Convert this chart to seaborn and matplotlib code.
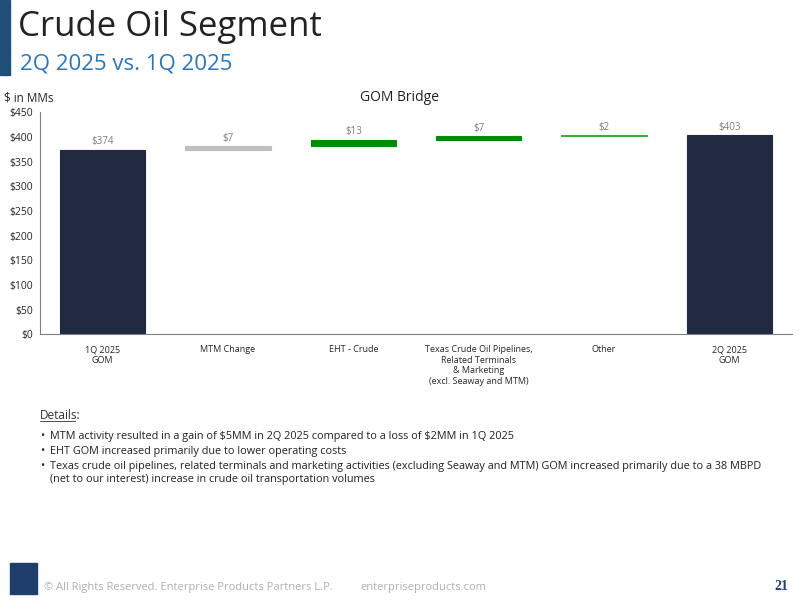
import matplotlib
matplotlib.use("Agg")
import matplotlib.pyplot as plt
import matplotlib.patches as mpatches
import seaborn as sns

# GOM bridge, $ in MMs
categories = ["1Q 2025\nGOM", "MTM Change", "EHT - Crude",
              "Texas Crude Oil Pipelines,\nRelated Terminals\n& Marketing\n(excl. Seaway and MTM)",
              "Other", "2Q 2025\nGOM"]
changes = [374, 7, 13, 7, 2, 403]
is_total = [True, False, False, False, False, True]
bar_colors = ["#212a40", "#bfbfbf", "#058a05", "#058a05", "#3aaa3a", "#212a40"]
labels = ["$374", "$7", "$13", "$7", "$2", "$403"]

bottoms, heights = [], []
running = 0
for v, tot in zip(changes, is_total):
    if tot:
        bottoms.append(0)
        running = v
    else:
        bottoms.append(running)
        running += v
    heights.append(v)

sns.set_style("white")
plt.rcParams['font.family'] = ['Open Sans', 'DejaVu Sans']
plt.rcParams['text.parse_math'] = False

fig = plt.figure(figsize=(8, 6), dpi=100)
fig.patches.append(mpatches.Rectangle((0, 0.875), 0.012, 0.125, transform=fig.transFigure,
                                      color="#1f4e79", zorder=0))
fig.text(0.022, 0.955, "Crude Oil Segment", fontsize=25, color="#222222", va="center")
fig.text(0.025, 0.893, "2Q 2025 vs. 1Q 2025", fontsize=16, color="#2e75b6", va="center")

ax = fig.add_axes([0.05, 0.443, 0.94, 0.37])
for cat, b, h, c in zip(categories, bottoms, heights, bar_colors):
    sns.barplot(x=[cat], y=[h], bottom=b, order=categories, color=c,
                width=0.68, saturation=1, edgecolor=c, linewidth=0.8, ax=ax)
for i, (b, h, lab) in enumerate(zip(bottoms, heights, labels)):
    ax.text(i, b + h + 5, lab, ha="center", va="bottom", fontsize=7, color="#7f7f7f")

ax.set_ylim(0, 450)
ax.set_xlim(-0.5, len(categories) - 0.5)
ax.set_yticks(range(0, 451, 50))
ax.set_yticklabels([f"${v}" for v in range(0, 451, 50)], fontsize=7.5)
ax.set_xticks(range(len(categories)))
ax.set_xticklabels(categories, fontsize=6.5)
ax.tick_params(axis="y", length=3, color="#808080", pad=2)
ax.tick_params(axis="x", length=0, pad=8)
for s in ["top", "right"]:
    ax.spines[s].set_visible(False)
ax.spines["left"].set_color("#808080")
ax.spines["bottom"].set_color("#808080")
ax.set_xlabel("")
ax.set_ylabel("")
fig.text(0.005, 0.837, "$ in MMs", fontsize=8.5, va="center")
fig.text(0.5, 0.838, "GOM Bridge", fontsize=10, ha="center", va="center", color="#222222")

fig.text(0.05, 0.302, "Details:", fontsize=8.5, color="#333333")
fig.lines.append(plt.Line2D([0.05, 0.094], [0.298, 0.298], transform=fig.transFigure,
                            color="#333333", lw=0.6))
bullets = ["MTM activity resulted in a gain of $5MM in 2Q 2025 compared to a loss of $2MM in 1Q 2025",
           "EHT GOM increased primarily due to lower operating costs",
           "Texas crude oil pipelines, related terminals and marketing activities (excluding Seaway and MTM) GOM increased primarily due to a 38 MBPD\n(net to our interest) increase in crude oil transportation volumes"]
ys = [0.282, 0.257, 0.232]
for y, t in zip(ys, bullets):
    fig.text(0.05, y, "•", fontsize=8, va="top")
    fig.text(0.062, y, t, fontsize=7.8, va="top", color="#222222", linespacing=1.3)

fig.patches.append(mpatches.Rectangle((0.012, 0.01), 0.034, 0.052, transform=fig.transFigure,
                                      color="#1f3e6b"))
fig.text(0.055, 0.017, "© All Rights Reserved. Enterprise Products Partners L.P.", fontsize=8, color="#b0b0b0")
fig.text(0.45, 0.017, "enterpriseproducts.com", fontsize=8, color="#b0b0b0")
fig.text(0.985, 0.017, "21", fontsize=10, ha="right", family="Liberation Serif", weight="bold", color="#1f3e6b")

fig.savefig("out.png", dpi=100)
